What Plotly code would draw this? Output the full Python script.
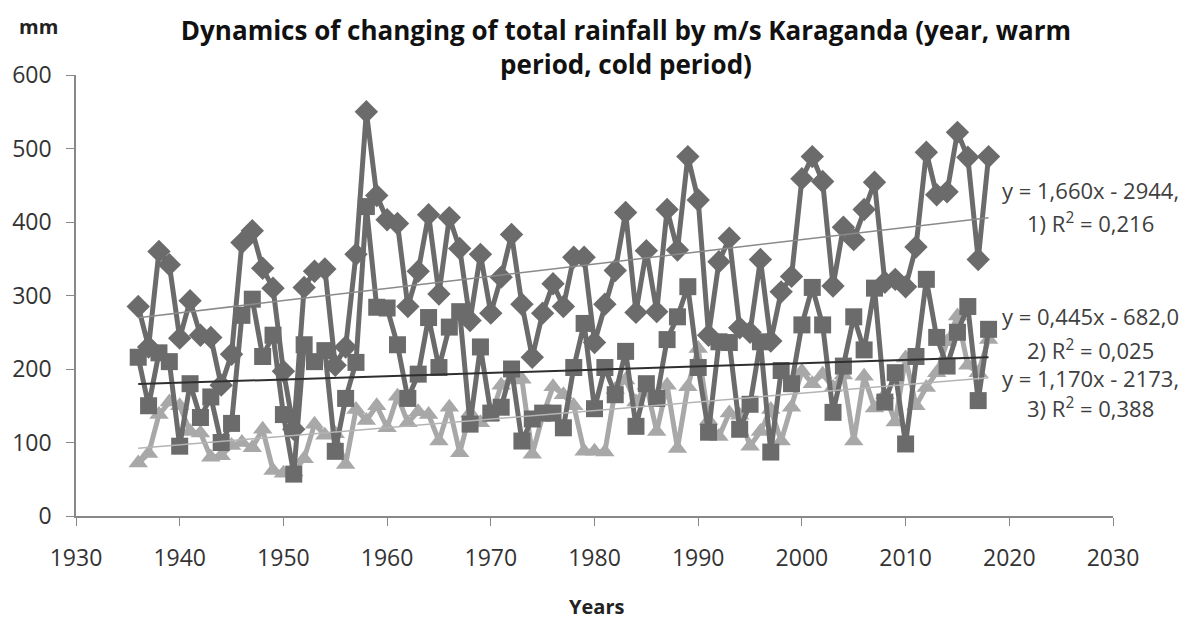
import plotly.graph_objects as go

years = list(range(1936, 2019))

year_total = [
    285, 230, 360, 342, 242, 293, 246, 243, 178, 220,   # 1936-1945
    372, 388, 337, 310, 197, 118, 311, 333, 336, 205,   # 1946-1955
    230, 356, 550, 436, 403, 398, 285, 333, 410, 302,   # 1956-1965
    406, 364, 266, 356, 276, 325, 383, 288, 216, 276,   # 1966-1975
    316, 285, 352, 352, 236, 288, 334, 413, 277, 361,   # 1976-1985
    278, 417, 362, 489, 430, 246, 346, 378, 256, 250,   # 1986-1995
    349, 238, 305, 326, 459, 489, 455, 313, 393, 376,   # 1996-2005
    417, 454, 318, 322, 312, 366, 495, 437, 441, 522,   # 2006-2015
    488, 349, 489,                                      # 2016-2018
]

warm_period = [
    216, 150, 222, 210, 95, 180, 134, 162, 100, 126,
    273, 295, 217, 246, 138, 57, 233, 210, 225, 88,
    160, 209, 421, 284, 283, 233, 160, 193, 270, 202,
    257, 278, 125, 230, 140, 148, 200, 102, 132, 140,
    140, 120, 202, 262, 146, 202, 165, 224, 122, 180,
    160, 240, 271, 312, 202, 114, 237, 236, 118, 152,
    237, 87, 198, 180, 260, 311, 260, 141, 204, 271,
    226, 310, 155, 195, 98, 217, 322, 243, 204, 250,
    285, 157, 254,
]

cold_period = [
    72, 85, 138, 155, 150, 115, 113, 80, 82, 96,
    100, 93, 118, 62, 58, 60, 78, 125, 110, 112,
    70, 145, 130, 150, 120, 163, 127, 142, 138, 102,
    148, 86, 140, 127, 135, 178, 185, 186, 84, 136,
    176, 165, 150, 88, 88, 87, 172, 185, 155, 178,
    115, 178, 92, 176, 228, 130, 108, 140, 137, 95,
    115, 145, 102, 148, 197, 180, 193, 175, 192, 102,
    190, 147, 165, 128, 215, 150, 175, 195, 237, 272,
    205, 195, 240,
]

# trend line coefficients (slope, intercept) as printed on the chart
trend_year = (1.660, -2944)
trend_warm = (0.445, -682.0)
trend_cold = (1.170, -2173)

equation_lines = [
    "y = 1,660x - 2944,",
    "1) R<sup>2</sup> = 0,216",
    "y = 0,445x - 682,0",
    "2) R<sup>2</sup> = 0,025",
    "y = 1,170x - 2173,",
    "3) R<sup>2</sup> = 0,388",
]
equation_line_y = [443, 400, 272, 227, 188, 147]

x_ticks = [1930, 1940, 1950, 1960, 1970, 1980, 1990, 2000, 2010, 2020, 2030]
y_ticks = [0, 100, 200, 300, 400, 500, 600]

FONT = "Open Sans"
DARK = "#6b6b6b"
LIGHT = "#a8a8a8"

fig = go.Figure()

fig.add_trace(go.Scatter(
    x=years, y=cold_period, mode="lines+markers",
    line=dict(color=LIGHT, width=5),
    marker=dict(symbol="triangle-up", size=17, color=LIGHT),
    name="cold period",
))
fig.add_trace(go.Scatter(
    x=years, y=warm_period, mode="lines+markers",
    line=dict(color=DARK, width=5),
    marker=dict(symbol="square", size=17, color=DARK),
    name="warm period",
))
fig.add_trace(go.Scatter(
    x=years, y=year_total, mode="lines+markers",
    line=dict(color=DARK, width=5),
    marker=dict(symbol="diamond", size=18, color=DARK),
    name="year",
))

x_ends = [years[0], years[-1]]
for (a, b), col, w in [
    (trend_year, "#8a8a8a", 1.5),
    (trend_warm, "#2f2f2f", 2),
    (trend_cold, "#b4b4b4", 1.5),
]:
    fig.add_trace(go.Scatter(
        x=x_ends, y=[a * x + b for x in x_ends], mode="lines",
        line=dict(color=col, width=w), hoverinfo="skip", showlegend=False,
    ))

for txt, yv in zip(equation_lines, equation_line_y):
    fig.add_annotation(
        x=2027.8, y=yv, xref="x", yref="y", text=txt, showarrow=False,
        font=dict(family=FONT, size=22, color="#404040"), align="center",
        xanchor="center", yanchor="middle",
    )

fig.add_annotation(
    x=-0.0365, y=1.109, xref="paper", yref="paper",
    text="<b>mm</b>", showarrow=False, xanchor="center", yanchor="middle",
    font=dict(family=FONT, size=20, color="#222"),
)
fig.add_annotation(
    x=0.502, y=-0.205, xref="paper", yref="paper",
    text="<b>Years</b>", showarrow=False, xanchor="center", yanchor="middle",
    font=dict(family=FONT, size=20, color="#222"),
)

fig.update_layout(
    width=1192, height=621,
    margin=dict(l=73, r=79, t=75, b=105),
    paper_bgcolor="white", plot_bgcolor="white",
    showlegend=False,
    title=dict(
        text="<b>Dynamics of changing of total rainfall by m/s Karaganda (year, warm<br>period, cold period)</b>",
        x=626 / 1192, xanchor="center", y=1 - 40 / 621, yanchor="middle",
        font=dict(family=FONT, size=26, color="#111"),
    ),
    font=dict(family=FONT, size=20, color="#333"),
)
fig.update_xaxes(
    range=[1930, 2030], tickvals=x_ticks, showgrid=False, zeroline=False,
    showline=True, linecolor="#888", linewidth=1.5,
    ticks="outside", ticklen=8, tickcolor="#888", ticklabelstandoff=13,
    tickfont=dict(family=FONT, size=23, color="#333"),
)
fig.update_yaxes(
    range=[0, 600], tickvals=y_ticks, showgrid=False, zeroline=False,
    showline=True, linecolor="#888", linewidth=1.5,
    ticks="outside", ticklen=8, tickcolor="#888", ticklabelstandoff=10,
    tickfont=dict(family=FONT, size=23, color="#333"),
)

fig.write_html(
    "out.html",
    config={"displayModeBar": False},
    post_script="document.body.style.margin='0';document.body.style.padding='0';",
)
